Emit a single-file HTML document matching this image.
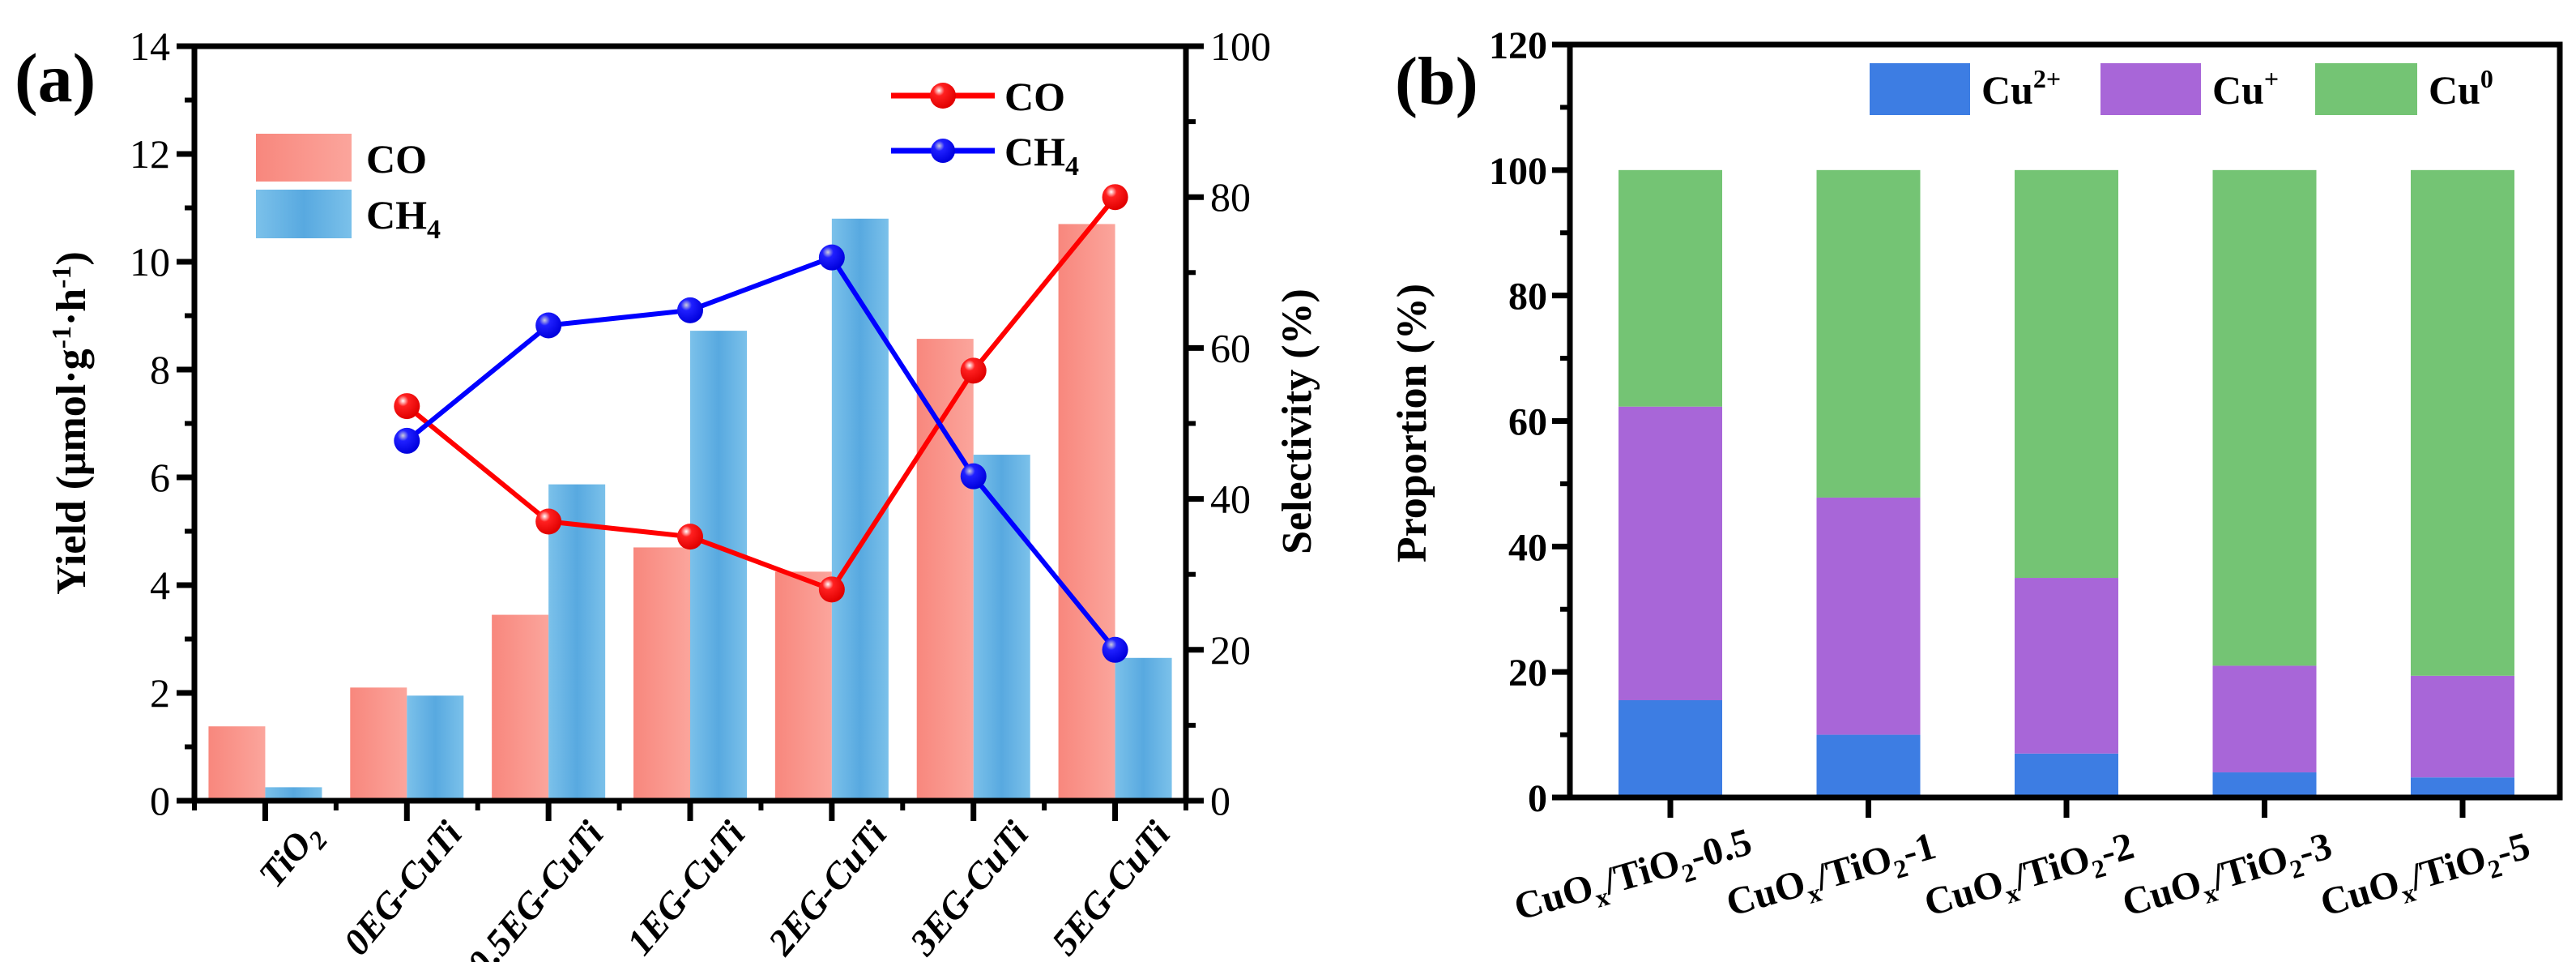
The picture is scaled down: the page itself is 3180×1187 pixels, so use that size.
<!DOCTYPE html>
<html><head><meta charset="utf-8"><style>
html,body{margin:0;padding:0;background:#fff;overflow:hidden;}
svg{display:block;font-family:"Liberation Serif",serif;font-weight:bold;}
</style></head><body>
<svg id="c" width="3180" height="1187" viewBox="0 0 3180 1187" xmlns="http://www.w3.org/2000/svg">
<defs>
<linearGradient id="gCO" x1="0" x2="1"><stop offset="0" stop-color="#F8877D"/><stop offset="1" stop-color="#FBA59C"/></linearGradient>
<linearGradient id="gCH" x1="0" x2="1"><stop offset="0" stop-color="#7BC1EA"/><stop offset="0.5" stop-color="#58A9E0"/><stop offset="1" stop-color="#7BC1EA"/></linearGradient>
<radialGradient id="mR" cx="0.35" cy="0.3" r="0.7"><stop offset="0" stop-color="#fff"/><stop offset="0.3" stop-color="#ff2020"/><stop offset="1" stop-color="#e00000"/></radialGradient>
<radialGradient id="mB" cx="0.35" cy="0.3" r="0.7"><stop offset="0" stop-color="#ccd"/><stop offset="0.3" stop-color="#2020ff"/><stop offset="1" stop-color="#0000dd"/></radialGradient>
</defs>
<g id="pa"></g>
<g id="pb"></g>
</svg>
<script>
// Panel (a) data
const catsA = ["TiO2","0EG-CuTi","0.5EG-CuTi","1EG-CuTi","2EG-CuTi","3EG-CuTi","5EG-CuTi"];
const yieldCO = [1.38, 2.1, 3.45, 4.7, 4.25, 8.57, 10.7];
const yieldCH4 = [0.25, 1.95, 5.87, 8.72, 10.8, 6.42, 2.65];
const selCO = [null, 52.3, 37, 35, 28, 57, 80];
const selCH4 = [null, 47.7, 63, 65, 72, 43, 20];
const leftTicks = [0,2,4,6,8,10,12,14];
const rightTicks = [0,20,40,60,80,100];
// Panel (b) data
const catsB = ["-0.5","-1","-2","-3","-5"];
const cu2 = [15.5, 10, 7, 4, 3.2];
const cu1 = [46.8, 37.8, 28, 17, 16.2];
const cu0 = [37.7, 52.2, 65, 79, 80.6];
const bTicks = [0,20,40,60,80,100,120];

const NS="http://www.w3.org/2000/svg";
function mk(parent,tag,attrs,text){const e=document.createElementNS(NS,tag);for(const k in attrs)e.setAttribute(k,attrs[k]);if(text!==undefined)e.textContent=text;parent.appendChild(e);return e;}

// ---------- Panel a ----------
const pa=document.getElementById('pa');
const aL=240,aR=1464,aT=57,aB=988;
const xa=i=>aL+(i+0.5)*(aR-aL)/catsA.length;
const ya=v=>aB-v/14*(aB-aT);
const ys=v=>aB-v/100*(aB-aT);
const bw=70;
catsA.forEach((c,i)=>{
  let r=mk(pa,'rect',{x:xa(i)-bw,y:ya(yieldCO[i]),width:bw,height:aB-ya(yieldCO[i]),fill:'url(#gCO)'});
  
  
  r=mk(pa,'rect',{x:xa(i),y:ya(yieldCH4[i]),width:bw,height:aB-ya(yieldCH4[i]),fill:'url(#gCH)'});
  
  
});
function line(vals,color,grad,name){
  const pts=[];vals.forEach((v,i)=>{if(v!==null)pts.push([xa(i),ys(v)]);});
  const p=mk(pa,'polyline',{points:pts.map(p=>p.join(',')).join(' '),fill:'none',stroke:color,'stroke-width':6});
  
  
  pts.forEach((q,k)=>{const c=mk(pa,'circle',{cx:q[0],cy:q[1],r:16,fill:grad});
    
    });
}
line(selCO,'#f00','url(#mR)','selectivity-co');
line(selCH4,'#00f','url(#mB)','selectivity-ch4');
mk(pa,'rect',{x:aL,y:aT,width:aR-aL,height:aB-aT,fill:'none',stroke:'#000','stroke-width':7});
leftTicks.forEach(v=>{mk(pa,'line',{x1:aL-22,x2:aL,y1:ya(v),y2:ya(v),stroke:'#000','stroke-width':7});
  const t=mk(pa,'text',{x:aL-30,y:ya(v)+17,'text-anchor':'end','font-size':50,'font-weight':'normal'},v);
  
  if(v<14)mk(pa,'line',{x1:aL-12,x2:aL,y1:ya(v+1),y2:ya(v+1),stroke:'#000','stroke-width':6});});
rightTicks.forEach(v=>{mk(pa,'line',{x1:aR,x2:aR+22,y1:ys(v),y2:ys(v),stroke:'#000','stroke-width':7});
  const t=mk(pa,'text',{x:aR+30,y:ys(v)+17,'text-anchor':'start','font-size':50,'font-weight':'normal'},v);
  
  if(v<100)mk(pa,'line',{x1:aR,x2:aR+12,y1:ys(v+10),y2:ys(v+10),stroke:'#000','stroke-width':6});});
for(let i=0;i<=catsA.length;i++){const x=aL+i*(aR-aL)/catsA.length;mk(pa,'line',{x1:x,x2:x,y1:aB,y2:aB+12,stroke:'#000','stroke-width':6});}
catsA.forEach((c,i)=>{mk(pa,'line',{x1:xa(i),x2:xa(i),y1:aB,y2:aB+25,stroke:'#000','stroke-width':7});
  const t=mk(pa,'text',{x:0,y:0,'text-anchor':'end','font-size':46,'font-style':'italic',transform:`translate(${xa(i)+70},${aB+42}) rotate(-50)`});
  if(c==="TiO2"){t.textContent="TiO";mk(t,'tspan',{'font-size':32,dy:11},"2");}else t.textContent=c;
  });
</script>
<script>
(function(){
const pa=document.getElementById('pa');
pa.insertAdjacentHTML('beforeend',`
<text x="18" y="125" font-size="86">(a)</text>
<text transform="translate(105,522) rotate(-90)" text-anchor="middle" font-size="52">Yield (μmol·g<tspan font-size="34" dy="-18">-1</tspan><tspan dy="18">·h</tspan><tspan font-size="34" dy="-18">-1</tspan><tspan dy="18">)</tspan></text>
<text transform="translate(1618,520) rotate(-90)" text-anchor="middle" font-size="52">Selectivity (%)</text>
<rect x="316" y="165" width="118" height="59" fill="url(#gCO)"/>
<text x="452" y="213" font-size="50">CO</text>
<rect x="316" y="234" width="118" height="60" fill="url(#gCH)"/>
<text x="452" y="282" font-size="50">CH<tspan font-size="34" dy="12">4</tspan></text>
<line x1="1100" y1="118" x2="1228" y2="118" stroke="#f00" stroke-width="7"/>
<circle cx="1164" cy="118" r="16" fill="url(#mR)"/>
<text x="1240" y="136" font-size="50">CO</text>
<line x1="1100" y1="186" x2="1228" y2="186" stroke="#00f" stroke-width="7"/>
<circle cx="1164" cy="186" r="15" fill="url(#mB)"/>
<text x="1240" y="204" font-size="50">CH<tspan font-size="34" dy="12">4</tspan></text>
`);
})();
</script>
<script>
// ---------- Panel b ----------
const pb=document.getElementById('pb');
const bL=1938,bR=3160,bT=55,bB=984;
const xb=i=>2062+i*244.5;
const yb=v=>bB-v/120*(bB-bT);
const bbw=128;
catsB.forEach((c,i)=>{
  const segs=[[0,cu2[i],'#3D7DE3','cu2'],[cu2[i],cu2[i]+cu1[i],'#A866D8','cu1'],[cu2[i]+cu1[i],cu2[i]+cu1[i]+cu0[i],'#74C474','cu0']];
  segs.forEach(s=>{const r=mk(pb,'rect',{x:xb(i)-bbw/2,y:yb(s[1]),width:bbw,height:yb(s[0])-yb(s[1]),fill:s[2]});
    
    });
});
mk(pb,'rect',{x:bL,y:bT,width:bR-bL,height:bB-bT,fill:'none',stroke:'#000','stroke-width':7});
bTicks.forEach(v=>{mk(pb,'line',{x1:bL-22,x2:bL,y1:yb(v),y2:yb(v),stroke:'#000','stroke-width':7});
  const t=mk(pb,'text',{x:bL-28,y:yb(v)+17,'text-anchor':'end','font-size':48},v);
  
  if(v<120)mk(pb,'line',{x1:bL-12,x2:bL,y1:yb(v+10),y2:yb(v+10),stroke:'#000','stroke-width':6});});
catsB.forEach((c,i)=>{mk(pb,'line',{x1:xb(i),x2:xb(i),y1:bB,y2:bB+25,stroke:'#000','stroke-width':7});
  const t=mk(pb,'text',{x:0,y:0,'text-anchor':'middle','font-size':48,transform:`translate(${xb(i)-42},${bB+110}) rotate(-16)`});
  t.textContent="CuO";mk(t,'tspan',{'font-size':32,dy:12},"x");mk(t,'tspan',{dy:-12},"/TiO");mk(t,'tspan',{'font-size':32,dy:12},"2");mk(t,'tspan',{dy:-12},c);
  });
pb.insertAdjacentHTML('beforeend',`
<text x="1722" y="128" font-size="84">(b)</text>
<text transform="translate(1760,522) rotate(-90)" text-anchor="middle" font-size="52">Proportion (%)</text>
<rect x="2308" y="78" width="124" height="64" fill="#3D7DE3"/>
<text x="2446" y="128" font-size="50">Cu<tspan font-size="32" dy="-20">2+</tspan></text>
<rect x="2593" y="78" width="124" height="64" fill="#A866D8"/>
<text x="2731" y="128" font-size="50">Cu<tspan font-size="32" dy="-20">+</tspan></text>
<rect x="2858" y="78" width="126" height="64" fill="#74C474"/>
<text x="2998" y="128" font-size="50">Cu<tspan font-size="32" dy="-20">0</tspan></text>
`);
</script>
</body></html>
